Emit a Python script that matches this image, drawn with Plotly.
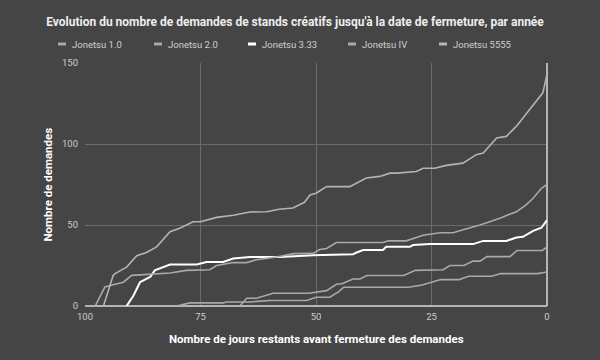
import plotly.graph_objects as go

# ---- data (days remaining before closing, cumulative number of requests) ----
series_names = ["Jonetsu 1.0", "Jonetsu 2.0", "Jonetsu 3.33", "Jonetsu IV", "Jonetsu 5555"]

days_j1 = [80.2, 77.3, 70.1, 69.4, 64.3, 60, 52, 50, 47, 45, 44, 30, 27, 25, 23, 19, 17, 12, 10, 2, 0]
vals_j1 = [0, 1.9, 1.9, 2.5, 2.5, 3.4, 3.4, 5.4, 5.4, 9, 11.6, 11.6, 13, 14.8, 16.3, 16.3, 18.4, 18.4, 20, 20, 21]

days_j2 = [66.5, 65, 62.9, 60.7, 59.3, 51.6, 50, 47.7, 45.5, 44.5, 42, 40.5, 39, 31, 28.5, 25, 22.5,
           21, 18, 16, 14.5, 13, 8, 6.5, 1, 0]
vals_j2 = [0, 4.8, 4.8, 6.9, 7.9, 7.9, 8.5, 9.5, 13.6, 13.6, 16.7, 16.7, 18.8, 18.8, 22, 22.4, 22.4,
           25, 25, 27.7, 27.7, 30.5, 30.5, 34.3, 34.3, 36.5]

days_j3 = [91, 89.5, 88.1, 85.9, 84.9, 84, 81.6, 75.8, 73.7, 70.1, 67.9, 64.3, 57.8, 50.6, 47, 42,
           41.2, 39.8, 35.5, 34.8, 29.7, 29, 25.4, 16, 13.8, 8.8, 6.6, 5.2, 3, 1.2, 0]
vals_j3 = [0, 6.5, 14.7, 17.9, 22, 23, 25.6, 25.6, 27.2, 27.2, 29.3, 30.3, 30.3, 31.3, 31.5, 32,
           33, 34.6, 34.6, 36.5, 36.5, 37.6, 38.2, 38.2, 40.2, 40.2, 42.3, 42.7, 46.4, 48.3, 53]

days_j4 = [97.8, 95.7, 93.9, 91.7, 89.9, 84.5, 81.6, 78, 73, 71.5, 67.9, 65, 62.9, 58.5, 54.9, 50.6,
           49.2, 47.7, 45.6, 35.5, 34.4, 30.5, 26.8, 23.2, 20.3, 18.9, 16, 14.5, 12.4, 10.2, 8.1,
           6.6, 4.6, 3, 1.2, 0]
vals_j4 = [0, 11.7, 13.1, 14.7, 18.9, 20, 20.4, 22, 22.4, 25, 26.8, 26.8, 28.6, 30.2, 32.3, 32.5,
           34.9, 35.5, 39.2, 39.2, 40.2, 40.2, 43.7, 45.2, 45.2, 46.4, 48.5, 50, 52, 54.1, 56.6,
           58.2, 62.3, 66.5, 72.7, 75]

days_j5 = [96, 93.9, 93.5, 91, 88.8, 86.7, 84.5, 81.6, 79.5, 76.6, 75, 71.5, 67.9, 64.3, 60.7, 58,
           55, 53.5, 52.5, 51.3, 50, 47.7, 42.7, 39.1, 36.2, 34, 32.5, 28.3, 26.8, 24.3, 21.8,
           18.2, 15.3, 13.8, 10.9, 8.8, 6.6, 4.4, 2.3, 0.9, 0]
vals_j5 = [0, 18.9, 20, 24, 31, 33, 36.5, 45.8, 48, 52, 52, 54.7, 56, 58, 58.2, 59.7,
           60.5, 62.5, 64, 68.5, 69.6, 73.7, 73.7, 79, 80, 82, 82, 83, 85, 85, 86.8,
           88.2, 93.4, 94.4, 103.7, 104.7, 111, 119, 127, 131.6, 143]

x_ticks = [100, 75, 50, 25, 0]
y_ticks = [0, 50, 100, 150]

all_days = [days_j1, days_j2, days_j3, days_j4, days_j5]
all_vals = [vals_j1, vals_j2, vals_j3, vals_j4, vals_j5]
colors = ["#a9a9a9", "#a9a9a9", "#ffffff", "#a9a9a9", "#b4b4b4"]
widths = [1.6, 1.6, 2, 1.6, 1.6]

BG = "#454545"
FONT = "Roboto"

fig = go.Figure()
for name, d, v, c, w in zip(series_names, all_days, all_vals, colors, widths):
    fig.add_trace(go.Scatter(x=d, y=v, mode="lines", name=name,
                             line=dict(color=c, width=w), showlegend=False))

# custom compact legend (short dash + label)
leg_x = [58, 154, 248, 348, 439]
W, H = 600, 360
ml, mr, mt, mb = 85, 53, 63, 54
pw, ph = W - ml - mr, H - mt - mb
def px2paper_x(px):
    return (px - ml) / pw
def px2paper_y(py):
    return (H - mb - py) / ph
for name, c, lx in zip(series_names, colors, leg_x):
    fig.add_shape(type="line", xref="paper", yref="paper",
                  x0=px2paper_x(lx), x1=px2paper_x(lx + 8),
                  y0=px2paper_y(44), y1=px2paper_y(44),
                  line=dict(color=c, width=3))
    fig.add_annotation(xref="paper", yref="paper", x=px2paper_x(lx + 12), y=px2paper_y(44),
                       text=name, showarrow=False, xanchor="left", yanchor="middle",
                       font=dict(family=FONT, size=9.5, color="#d0d0d0"))

# y-axis title as annotation (rotated)
fig.add_annotation(xref="paper", yref="paper", x=px2paper_x(47), y=0.5,
                   text="<b>Nombre de demandes</b>", textangle=-90, showarrow=False,
                   xanchor="center", yanchor="middle",
                   font=dict(family=FONT, size=11.5, color="#ffffff"))
# x-axis title as annotation
fig.add_annotation(xref="paper", yref="paper", x=0.5, y=px2paper_y(339),
                   text="<b>Nombre de jours restants avant fermeture des demandes</b>", showarrow=False,
                   xanchor="center", yanchor="middle",
                   font=dict(family=FONT, size=11.5, color="#ffffff"))

fig.update_layout(
    width=W, height=H,
    margin=dict(l=ml, r=mr, t=mt, b=mb, autoexpand=False),
    paper_bgcolor=BG, plot_bgcolor=BG,
    font=dict(family=FONT, color="#cccccc", size=10),
    title=dict(text="<b>Evolution du nombre de demandes de stands créatifs jusqu'à la date de fermeture, par année</b>",
               x=(295 / W), xref="container", xanchor="center", y=1 - 22 / H, yref="container",
               yanchor="middle",
               font=dict(family=FONT, size=12, color="#eeeeee")),
    xaxis=dict(range=[100, 0], tickvals=x_ticks, ticktext=[str(t) for t in x_ticks],
               showgrid=True, gridcolor="#6c6c6c", gridwidth=1,
               zeroline=True, zerolinecolor="#b5b5b5", zerolinewidth=2,
               showline=False, ticks="", tickfont=dict(family=FONT, size=9.5, color="#cccccc"),
               ticklabelstandoff=3, automargin=False),
    yaxis=dict(range=[0, 150], tickvals=y_ticks, ticktext=[str(t) for t in y_ticks],
               showgrid=True, gridcolor="#6c6c6c", gridwidth=1,
               zeroline=True, zerolinecolor="#b5b5b5", zerolinewidth=2,
               showline=False, ticks="", tickfont=dict(family=FONT, size=9.5, color="#cccccc"),
               ticklabelstandoff=6, automargin=False),
)

fig.write_html("out.html", config={"displayModeBar": False},
               post_script="document.body.style.margin='0';document.body.style.background='#454545';")
